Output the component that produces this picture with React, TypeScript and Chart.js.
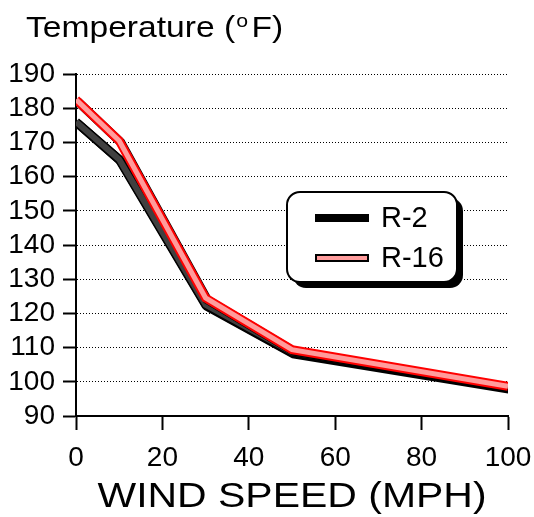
import React, { useEffect, useRef } from 'react';
import { Chart, registerables } from 'chart.js';

Chart.register(...registerables);

// ---- data ----
const windSpeed = [0, 10, 30, 50, 100];
const r2Temps = [176, 165, 122.5, 108.6, 98.3];
const r16Temps = [182.5, 170.5, 124.5, 109.4, 98.7];
const seriesNames = ['R-2', 'R-16'];
const yMin = 90;
const yMax = 190;
const yStep = 10;
const xMin = 0;
const xMax = 100;
const xStep = 20;
const titleParts = ['Temperature (', 'o', 'F)'];
const xTitle = 'WIND SPEED (MPH)';

const FONT = '"Liberation Sans", Arial, Helvetica, sans-serif';

const pts = (ys: number[]) => windSpeed.map((x, i) => ({ x, y: ys[i] }));

function roundRectPath(ctx: CanvasRenderingContext2D, x: number, y: number, w: number, h: number, r: number) {
  ctx.beginPath();
  ctx.moveTo(x + r, y);
  ctx.lineTo(x + w - r, y);
  ctx.arcTo(x + w, y, x + w, y + r, r);
  ctx.lineTo(x + w, y + h - r);
  ctx.arcTo(x + w, y + h, x + w - r, y + h, r);
  ctx.lineTo(x + r, y + h);
  ctx.arcTo(x, y + h, x, y + h - r, r);
  ctx.lineTo(x, y + r);
  ctx.arcTo(x, y, x + r, y, r);
  ctx.closePath();
}

const shadowPlugin = {
  id: 'lineShadow',
  beforeDatasetDraw(chart: any, args: any) {
    const ds = chart.data.datasets[args.index];
    if (ds.shadow) {
      const ctx = chart.ctx;
      ctx.save();
      ctx.shadowColor = '#000';
      ctx.shadowOffsetX = 1.5;
      ctx.shadowOffsetY = 1.5;
      ctx.shadowBlur = 0;
    }
  },
  afterDatasetDraw(chart: any, args: any) {
    const ds = chart.data.datasets[args.index];
    if (ds.shadow) chart.ctx.restore();
  },
};

const decorPlugin = {
  id: 'decor',
  afterDraw(chart: any) {
    const ctx: CanvasRenderingContext2D = chart.ctx;
    const area = chart.chartArea;

    // Title with superscript
    ctx.save();
    ctx.fillStyle = '#000';
    ctx.textBaseline = 'alphabetic';
    ctx.textAlign = 'left';
    ctx.translate(26, 37);
    ctx.scale(1.12, 1);
    ctx.font = `30px ${FONT}`;
    ctx.fillText(titleParts[0], 0, 0);
    let x = ctx.measureText(titleParts[0]).width;
    ctx.font = `19px ${FONT}`;
    ctx.fillText(titleParts[1], x + 1, -10);
    x += ctx.measureText(titleParts[1]).width + 4;
    ctx.font = `30px ${FONT}`;
    ctx.fillText(titleParts[2], x, 0);
    ctx.restore();

    // X axis title
    ctx.save();
    ctx.fillStyle = '#000';
    ctx.textAlign = 'center';
    ctx.textBaseline = 'alphabetic';
    ctx.translate((area.left + area.right) / 2, 507);
    ctx.scale(1.17, 1);
    ctx.font = `35px ${FONT}`;
    ctx.fillText(xTitle, 0, 0);
    ctx.restore();

    // Legend box
    const bx = 287, by = 192, bw = 170, bh = 90;
    ctx.save();
    roundRectPath(ctx, bx + 6, by + 6, bw, bh, 13);
    ctx.fillStyle = '#000';
    ctx.fill();
    roundRectPath(ctx, bx, by, bw, bh, 13);
    ctx.fillStyle = '#fff';
    ctx.fill();
    ctx.lineWidth = 2;
    ctx.strokeStyle = '#000';
    ctx.stroke();

    // samples
    ctx.fillStyle = '#000';
    ctx.fillRect(315, 214, 54, 8);
    ctx.fillStyle = '#ff9c9c';
    ctx.fillRect(316, 255, 52, 6);
    ctx.lineWidth = 2;
    ctx.strokeStyle = '#000';
    ctx.strokeRect(316, 255, 52, 6);

    ctx.fillStyle = '#000';
    ctx.font = `29px ${FONT}`;
    ctx.textAlign = 'left';
    ctx.textBaseline = 'middle';
    ctx.fillText(seriesNames[0], 381, 219);
    ctx.fillText(seriesNames[1], 381, 259);
    ctx.restore();
  },
};

export default function App() {
  const ref = useRef<HTMLCanvasElement | null>(null);

  useEffect(() => {
    if (!ref.current) return;
    const chart = new Chart(ref.current, {
      type: 'line',
      data: {
        datasets: [
          {
            label: seriesNames[1] + ' fill',
            data: pts(r16Temps),
            borderColor: '#ff9c9c',
            borderWidth: 5,
            pointRadius: 0,
            tension: 0,
            fill: false,
            borderCapStyle: 'butt',
            borderJoinStyle: 'miter',
          },
          {
            label: seriesNames[1],
            data: pts(r16Temps),
            borderColor: '#ff0000',
            borderWidth: 9,
            pointRadius: 0,
            tension: 0,
            fill: false,
            borderCapStyle: 'butt',
            borderJoinStyle: 'miter',
            shadow: true,
          } as any,
          {
            label: seriesNames[0] + ' fill',
            data: pts(r2Temps),
            borderColor: '#404040',
            borderWidth: 6,
            pointRadius: 0,
            tension: 0,
            fill: false,
            borderCapStyle: 'butt',
            borderJoinStyle: 'miter',
          },
          {
            label: seriesNames[0],
            data: pts(r2Temps),
            borderColor: '#000000',
            borderWidth: 9,
            pointRadius: 0,
            tension: 0,
            fill: false,
            borderCapStyle: 'butt',
            borderJoinStyle: 'miter',
            shadow: true,
          } as any,
        ],
      },
      options: {
        animation: false,
        responsive: false,
        maintainAspectRatio: false,
        layout: { padding: { top: 74, right: 26, left: 0, bottom: 0 } },
        plugins: {
          legend: { display: false },
          tooltip: { enabled: false },
          title: { display: false },
        },
        scales: {
          x: {
            type: 'linear',
            min: xMin,
            max: xMax,
            afterFit: (s: any) => {
              s.height = 101;
              s.paddingLeft = 0;
              s.paddingRight = 0;
            },
            ticks: {
              stepSize: xStep,
              color: '#000',
              font: { family: FONT, size: 28 },
              padding: 11,
              maxRotation: 0,
              autoSkip: false,
            },
            grid: {
              drawOnChartArea: false,
              drawTicks: true,
              tickLength: 14,
              tickWidth: 2,
              tickColor: '#000',
              color: '#000',
            },
            border: { display: true, color: '#000', width: 2 },
          },
          y: {
            type: 'linear',
            min: yMin,
            max: yMax,
            afterFit: (s: any) => {
              s.width = 76;
              s.paddingTop = 0;
              s.paddingBottom = 0;
            },
            ticks: {
              stepSize: yStep,
              color: '#000',
              font: { family: FONT, size: 28 },
              padding: 8,
              autoSkip: false,
            },
            grid: {
              color: '#000',
              lineWidth: 1,
              drawTicks: true,
              tickLength: 13,
              tickWidth: 2,
              tickColor: '#000',
              tickBorderDash: [],
            },
            border: { display: true, color: '#000', width: 2, dash: [1, 2] },
          },
        },
      },
      plugins: [shadowPlugin, decorPlugin],
    } as any);
    return () => chart.destroy();
  }, []);

  return (
    <div style={{ position: 'absolute', left: 0, top: 0, width: 534, height: 517, background: '#fff' }}>
      <canvas ref={ref} width={534} height={517} />
    </div>
  );
}
